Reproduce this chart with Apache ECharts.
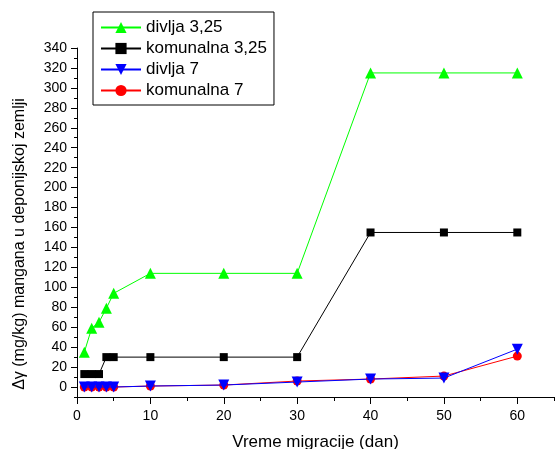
<!DOCTYPE html>
<html>
<head>
<meta charset="utf-8">
<script src="https://cdn.jsdelivr.net/npm/echarts@6/dist/echarts.min.js"></script>
<style>
html,body{margin:0;padding:0;background:#fff;}
#chart{width:555px;height:449px;}
</style>
</head>
<body>
<div id="chart"></div>
<script>
const days = [1, 2, 3, 4, 5, 10, 20, 30, 40, 50, 60];
const divlja325 = [35, 59, 65, 79, 94, 114, 114, 114, 315, 315, 315];
const komunalna325 = [13, 13, 13, 30, 30, 30, 30, 30, 155, 155, 155];
const divlja7 = [0, 0, 0, 0, 0, 1, 2, 5, 8, 9, 38];
const komunalna7 = [0, 0, 0, 0, 0, 1, 2, 6, 8, 11, 31];
const yTickLabels = [0, 20, 40, 60, 80, 100, 120, 140, 160, 180, 200, 220, 240, 260, 280, 300, 320, 340];
const xTickLabels = [0, 10, 20, 30, 40, 50, 60];
const seriesNames = ['divlja 3,25', 'komunalna 3,25', 'divlja 7', 'komunalna 7'];

const FONT = 'Liberation Sans, Arial, sans-serif';
const pairs = arr => days.map((d, i) => [d, arr[i]]);

const chart = echarts.init(document.getElementById('chart'), null, {renderer: 'canvas'});
chart.setOption({
  animation: false,
  backgroundColor: '#fff',
  textStyle: {fontFamily: FONT},
  grid: {left: 77, right: 1, top: 48, bottom: 52, containLabel: false, outerBoundsMode: 'none'},
  legend: {
    orient: 'vertical',
    left: 93,
    top: 12,
    data: seriesNames,
    backgroundColor: '#fff',
    borderColor: '#000',
    borderWidth: 1,
    borderRadius: 0,
    padding: [7, 7, 6, 7],
    itemGap: 4,
    itemWidth: 40,
    itemHeight: 14,
    textStyle: {fontSize: 17, color: '#000', fontFamily: FONT, lineHeight: 17}
  },
  xAxis: [
    {
      type: 'value', min: 0, max: 65, interval: 5, position: 'bottom',
      axisLine: {show: true, onZero: false, lineStyle: {color: '#000', width: 1}},
      axisTick: {show: true, length: 4, lineStyle: {color: '#000'}},
      axisLabel: {customValues: xTickLabels, fontSize: 14, color: '#000', margin: 12, fontFamily: FONT},
      splitLine: {show: false},
      name: 'Vreme migracije (dan)', nameLocation: 'middle', nameGap: 37,
      nameTextStyle: {fontSize: 17, color: '#000', fontFamily: FONT}
    },
    {
      type: 'value', min: 0, max: 65, interval: 5, position: 'bottom',
      axisLine: {show: false, onZero: false},
      axisTick: {show: true, length: 7, customValues: xTickLabels, lineStyle: {color: '#000'}},
      axisLabel: {show: false},
      splitLine: {show: false}
    }
  ],
  yAxis: [
    {
      type: 'value', min: -10, max: 340, interval: 10, position: 'left',
      axisLine: {show: true, onZero: false, lineStyle: {color: '#000', width: 1}},
      axisTick: {show: true, length: 3, lineStyle: {color: '#000'}},
      axisLabel: {customValues: yTickLabels, fontSize: 14, color: '#000', margin: 10, fontFamily: FONT},
      splitLine: {show: false},
      name: 'Δγ (mg/kg) mangana u deponijskoj zemlji', nameLocation: 'middle', nameGap: 49,
      nameTextStyle: {fontSize: 16, color: '#000', fontFamily: FONT, padding: [0, 43, 0, 0]}
    },
    {
      type: 'value', min: -10, max: 340, interval: 10, position: 'left',
      axisLine: {show: false, onZero: false},
      axisTick: {show: true, length: 6, customValues: yTickLabels, lineStyle: {color: '#000'}},
      axisLabel: {show: false},
      splitLine: {show: false}
    }
  ],
  series: [
    {
      name: seriesNames[0], type: 'line', data: pairs(divlja325),
      symbol: 'triangle', symbolSize: 11, showAllSymbol: true,
      itemStyle: {color: '#00ff00'}, lineStyle: {color: '#00ff00', width: 1}, z: 3
    },
    {
      name: seriesNames[1], type: 'line', data: pairs(komunalna325),
      symbol: 'rect', symbolSize: 8, showAllSymbol: true,
      itemStyle: {color: '#000'}, lineStyle: {color: '#000', width: 1}, z: 3
    },
    {
      name: seriesNames[3], type: 'line', data: pairs(komunalna7),
      symbol: 'circle', symbolSize: 9, showAllSymbol: true,
      itemStyle: {color: '#ff0000'}, lineStyle: {color: '#ff0000', width: 1}, z: 2
    },
    {
      name: seriesNames[2], type: 'line', data: pairs(divlja7),
      symbol: 'triangle', symbolRotate: 180, symbolSize: 11, showAllSymbol: true,
      itemStyle: {color: '#0000ff'}, lineStyle: {color: '#0000ff', width: 1}, z: 3
    }
  ]
});
</script>
</body>
</html>
